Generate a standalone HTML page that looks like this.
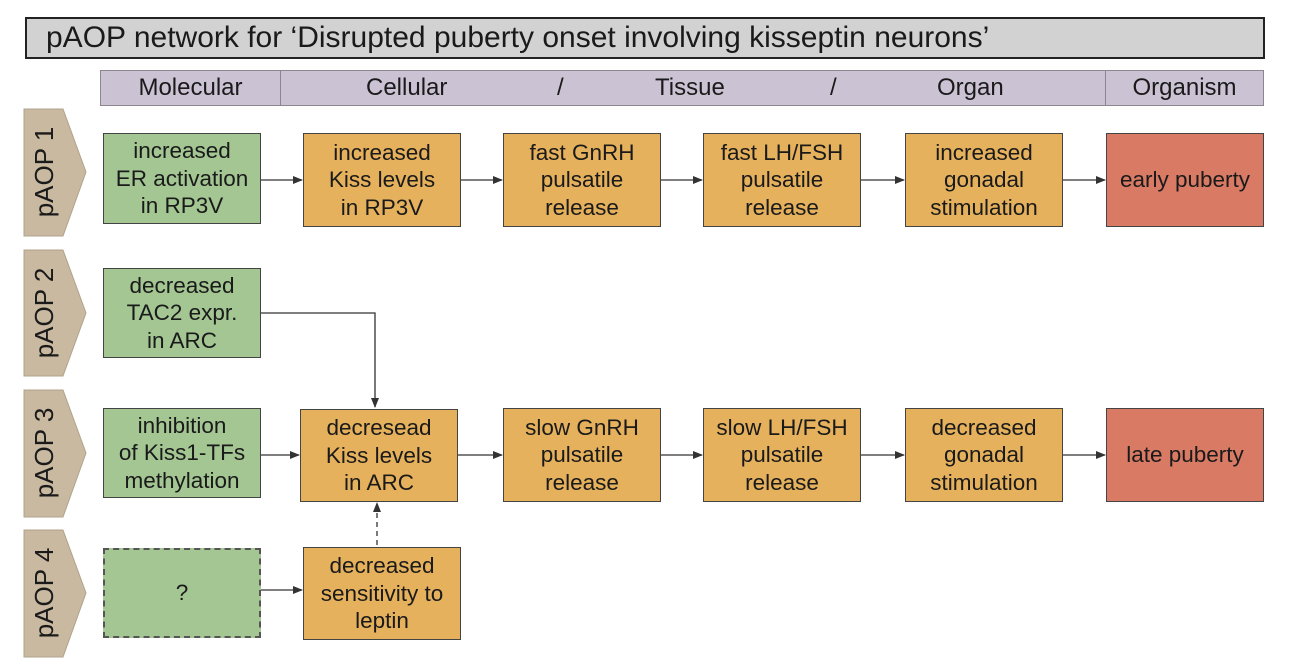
<!DOCTYPE html>
<html><head><meta charset="utf-8"><style>
body{margin:0;background:#fff;width:1292px;height:672px;position:relative;overflow:hidden;font-family:"Liberation Sans",Arial,sans-serif;color:#1a1a1a}
.a{position:absolute;box-sizing:border-box}
.title{left:25px;top:17px;width:1240px;height:42px;background:#d2d2d2;border:2px solid #222;font-size:30px;line-height:38px;padding-left:19px;white-space:nowrap}
.hdr{top:70px;height:36px;background:#cbc2d4;border:1px solid #8a8590;font-size:24px;line-height:34px;text-align:center}
.b{display:flex;align-items:center;justify-content:center;text-align:center;font-size:22.5px;line-height:27.5px;border:1.5px solid #444;white-space:nowrap}
.g{background:#a3c693}.o{background:#e6b15c}.r{background:#d97a64}
</style></head><body>
<div class="a title">pAOP network for ‘Disrupted puberty onset involving kisseptin neurons’</div>
<div class="a hdr" style="left:100px;width:181px">Molecular</div>
<div class="a hdr" style="left:280px;width:826px"><span style="position:absolute;left:85px">Cellular</span><span style="position:absolute;left:276px">/</span><span style="position:absolute;left:374px">Tissue</span><span style="position:absolute;left:549px">/</span><span style="position:absolute;left:656px">Organ</span></div>
<div class="a hdr" style="left:1105px;width:159px">Organism</div>

<svg class="a" style="left:0;top:0" width="1292" height="672">
<g fill="#c8b9a0" stroke="#b0a38c">
<polygon points="24,109 63,109 86,172 63,236 24,236"/>
<polygon points="24,250 63,250 86,313 63,376 24,376"/>
<polygon points="24,390 63,390 86,453 63,517 24,517"/>
<polygon points="24,530 63,530 86,593 63,657 24,657"/>
</g>
<g font-size="26" fill="#1a1a1a" font-family="Liberation Sans, Arial, sans-serif" text-anchor="middle">
<text transform="translate(53,172) rotate(-90)">pAOP 1</text>
<text transform="translate(53,313) rotate(-90)">pAOP 2</text>
<text transform="translate(53,453) rotate(-90)">pAOP 3</text>
<text transform="translate(53,593) rotate(-90)">pAOP 4</text>
</g>
<defs><marker id="m" markerWidth="10" markerHeight="8" refX="9" refY="4" orient="auto" markerUnits="userSpaceOnUse"><path d="M0,0 L10,4 L0,8 Z" fill="#333"/></marker></defs>
<g stroke="#333" stroke-width="1.3" fill="none" marker-end="url(#m)">
<line x1="261" y1="180" x2="302" y2="180"/>
<line x1="461" y1="180" x2="502" y2="180"/>
<line x1="661" y1="180" x2="702" y2="180"/>
<line x1="861" y1="180" x2="904" y2="180"/>
<line x1="1063" y1="180" x2="1105" y2="180"/>
<polyline points="261,313 375,313 375,407"/>
<line x1="261" y1="455" x2="299" y2="455"/>
<line x1="458" y1="455" x2="502" y2="455"/>
<line x1="661" y1="455" x2="702" y2="455"/>
<line x1="861" y1="455" x2="904" y2="455"/>
<line x1="1063" y1="455" x2="1105" y2="455"/>
<line x1="261" y1="590" x2="302" y2="590"/>
<line x1="377" y1="545" x2="377" y2="503" stroke-dasharray="5,4"/>
</g>
</svg>

<div class="a b g" style="left:103px;top:133px;width:158px;height:91px">increased<br>ER activation<br>in RP3V</div>
<div class="a b o" style="left:303px;top:133px;width:158px;height:94px">increased<br>Kiss levels<br>in RP3V</div>
<div class="a b o" style="left:503px;top:133px;width:158px;height:94px">fast GnRH<br>pulsatile<br>release</div>
<div class="a b o" style="left:703px;top:133px;width:158px;height:94px">fast LH/FSH<br>pulsatile<br>release</div>
<div class="a b o" style="left:905px;top:133px;width:158px;height:94px">increased<br>gonadal<br>stimulation</div>
<div class="a b r" style="left:1106px;top:133px;width:158px;height:94px">early puberty</div>

<div class="a b g" style="left:103px;top:268px;width:158px;height:90px">decreased<br>TAC2 expr.<br>in ARC</div>

<div class="a b g" style="left:103px;top:408px;width:158px;height:90px">inhibition<br>of Kiss1-TFs<br>methylation</div>
<div class="a b o" style="left:300px;top:409px;width:158px;height:93px">decresead<br>Kiss levels<br>in ARC</div>
<div class="a b o" style="left:503px;top:408px;width:158px;height:94px">slow GnRH<br>pulsatile<br>release</div>
<div class="a b o" style="left:703px;top:408px;width:158px;height:94px">slow LH/FSH<br>pulsatile<br>release</div>
<div class="a b o" style="left:905px;top:408px;width:158px;height:94px">decreased<br>gonadal<br>stimulation</div>
<div class="a b r" style="left:1106px;top:408px;width:158px;height:94px">late puberty</div>

<div class="a b g" style="left:103px;top:548px;width:158px;height:90px;border:2px dashed #555">?</div>
<div class="a b o" style="left:303px;top:547px;width:158px;height:93px">decreased<br>sensitivity to<br>leptin</div>
</body></html>
